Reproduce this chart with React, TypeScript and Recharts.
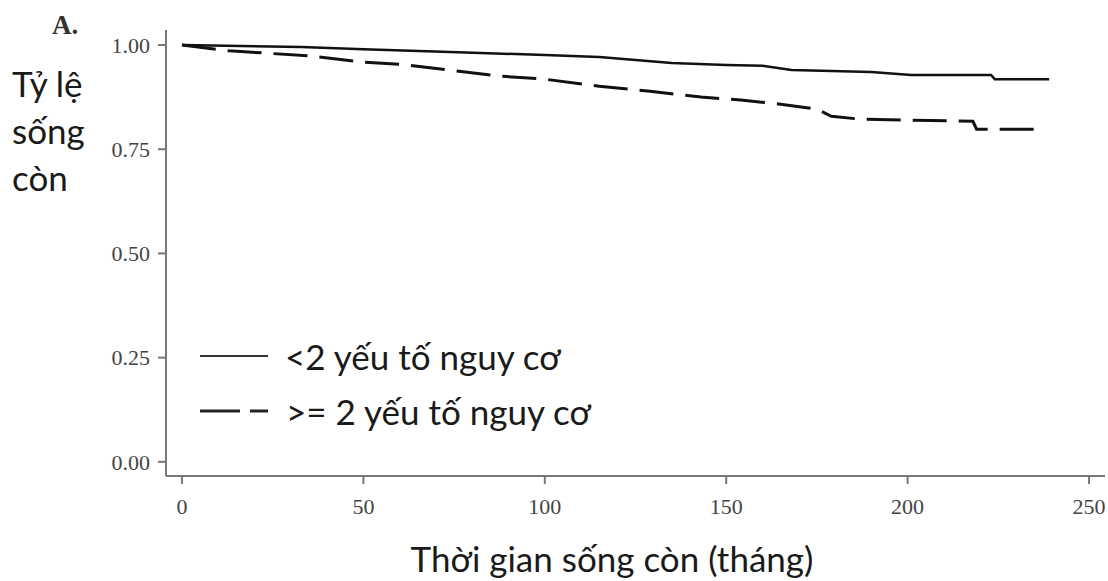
import React from 'react';
import { LineChart, Line, XAxis, YAxis } from 'recharts';

// Kaplan-Meier curves
const lowRisk = [
  { t: 0, s: 1.0 },
  { t: 33, s: 0.995 },
  { t: 50, s: 0.99 },
  { t: 74, s: 0.983 },
  { t: 100, s: 0.976 },
  { t: 115, s: 0.971 },
  { t: 135, s: 0.957 },
  { t: 150, s: 0.952 },
  { t: 160, s: 0.95 },
  { t: 168, s: 0.94 },
  { t: 190, s: 0.935 },
  { t: 201, s: 0.928 },
  { t: 223, s: 0.928 },
  { t: 224, s: 0.918 },
  { t: 239, s: 0.918 },
];

const highRisk = [
  { t: 0, s: 1.0 },
  { t: 13, s: 0.986 },
  { t: 35, s: 0.974 },
  { t: 50, s: 0.959 },
  { t: 60, s: 0.954 },
  { t: 88, s: 0.925 },
  { t: 100, s: 0.918 },
  { t: 115, s: 0.901 },
  { t: 129, s: 0.889 },
  { t: 143, s: 0.875 },
  { t: 154, s: 0.868 },
  { t: 165, s: 0.858 },
  { t: 175, s: 0.846 },
  { t: 179, s: 0.829 },
  { t: 187, s: 0.822 },
  { t: 218, s: 0.817 },
  { t: 219, s: 0.798 },
  { t: 236, s: 0.798 },
];

const xTicks = [0, 50, 100, 150, 200, 250];
const yTicks = [0, 0.25, 0.5, 0.75, 1.0];

const seriesNames = ['<2 yếu tố nguy cơ', '>= 2 yếu tố nguy cơ'];

const textFont = "Lato, 'Open Sans', sans-serif";
const DASH = '34 12';

const LegendBox = () => (
  <div style={{ fontFamily: textFont, fontSize: 35, color: '#1a1a1a' }}>
    <div style={{ display: 'flex', alignItems: 'center', height: 55 }}>
      <svg width={87} height={10}>
        <line x1={2} y1={5} x2={70} y2={5} stroke="#333" strokeWidth={2} />
      </svg>
      <span>{seriesNames[0]}</span>
    </div>
    <div style={{ display: 'flex', alignItems: 'center', height: 55 }}>
      <svg width={88} height={10}>
        <line x1={2} y1={5} x2={70} y2={5} stroke="#222" strokeWidth={3} strokeDasharray="40 10" />
      </svg>
      <span>{seriesNames[1]}</span>
    </div>
  </div>
);

const App: React.FC = () => {
  const tickStyle = { fontFamily: "'Liberation Serif', serif", fontSize: 22, fill: '#444' };
  return (
    <div style={{ position: 'absolute', left: 0, top: 0, width: 1108, height: 581, background: '#fff' }}>
      <LineChart width={1108} height={581} margin={{ top: 30, right: 3, bottom: 65, left: 90 }}>
        <XAxis
          type="number"
          dataKey="t"
          domain={[-4.4, 254.4]}
          ticks={xTicks}
          allowDataOverflow
          height={40}
          stroke="#777"
          strokeWidth={2}
          tickSize={8}
          tickMargin={14}
          tick={tickStyle}
          tickLine={{ stroke: '#777', strokeWidth: 2 }}
        />
        <YAxis
          type="number"
          dataKey="s"
          domain={[-0.034, 1.036]}
          ticks={yTicks}
          allowDataOverflow
          width={76}
          stroke="#777"
          strokeWidth={2}
          tickSize={8}
          tickMargin={8}
          tick={tickStyle}
          tickLine={{ stroke: '#777', strokeWidth: 2 }}
          tickFormatter={(v: number) => v.toFixed(2)}
        />
        <Line
          data={lowRisk}
          dataKey="s"
          name={seriesNames[0]}
          type="linear"
          stroke="#111"
          strokeWidth={2.5}
          dot={false}
          isAnimationActive={false}
        />
        <Line
          data={highRisk}
          dataKey="s"
          name={seriesNames[1]}
          type="linear"
          stroke="#111"
          strokeWidth={3}
          strokeDasharray={DASH}
          dot={false}
          isAnimationActive={false}
        />
      </LineChart>
      <div style={{ position: 'absolute', left: 198, top: 328 }}>
        <LegendBox />
      </div>
      <div
        style={{
          position: 'absolute', left: 52, top: 10,
          fontFamily: "'Liberation Serif', serif", fontWeight: 'bold', fontSize: 27, color: '#333',
        }}
      >
        A.
      </div>
      <div
        style={{
          position: 'absolute', left: 12, top: 60,
          fontFamily: textFont, fontSize: 35, lineHeight: '47px', color: '#1a1a1a',
        }}
      >
        Tỷ lệ<br />sống<br />còn
      </div>
      <div
        style={{
          position: 'absolute', left: 0, width: 1224, top: 537, textAlign: 'center',
          fontFamily: textFont, fontSize: 35, color: '#1a1a1a',
        }}
      >
        Thời gian sống còn (tháng)
      </div>
    </div>
  );
};

export default App;
